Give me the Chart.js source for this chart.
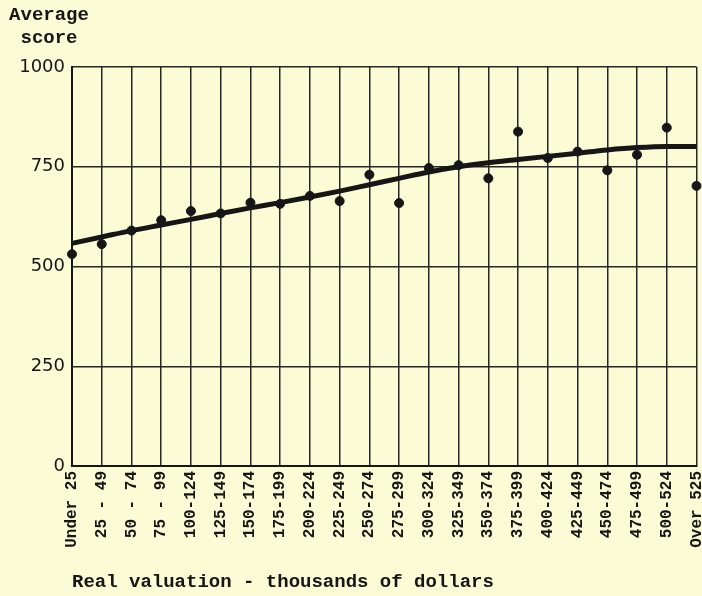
<!DOCTYPE html>
<html>
<head>
<meta charset="utf-8">
<script src="https://cdn.jsdelivr.net/npm/chart.js@4/dist/chart.umd.min.js"></script>
<style>
    html, body { margin: 0; padding: 0; background: #fbfbd6; }
    #wrap { width: 702px; height: 596px; }
</style>
</head>
<body>
<div id="wrap"><canvas id="scoreChart" width="702" height="596"></canvas></div>
<script>
// Data
const categories = [
    "Under 25", "25 - 49", "50 - 74", "75 - 99", "100-124", "125-149", "150-174",
    "175-199", "200-224", "225-249", "250-274", "275-299", "300-324", "325-349",
    "350-374", "375-399", "400-424", "425-449", "450-474", "475-499", "500-524", "Over 525"
];
const averageScores = [
    531, 556, 590, 616, 639, 633, 660, 657, 677, 664, 730,
    659, 747, 754, 721, 838, 772, 788, 741, 780, 848, 702
];
const trendLine = [
    558, 574, 590, 604, 618, 633, 647, 660, 674, 689, 705,
    721, 737, 750, 760, 768, 776, 784, 792, 798, 801, 801
];
const yTicks = [0, 250, 500, 750, 1000];

const ink = "#161616";
const typeFont = "'Liberation Mono', 'DejaVu Sans Mono', monospace";

document.addEventListener("DOMContentLoaded", () => {
    // y axis caption above the numbers
    const captionPlugin = {
        id: "caption",
        afterDraw(chart) {
            const ctx = chart.ctx;
            ctx.save();
            ctx.fillStyle = ink;
            ctx.font = "bold 19px " + typeFont;
            ctx.textAlign = "center";
            ctx.textBaseline = "middle";
            ctx.fillText("Average", 49, 15);
            ctx.fillText("score", 49, 38);
            ctx.restore();
        }
    };

    new Chart(document.getElementById("scoreChart"), {
        type: "line",
        data: {
            labels: categories,
            datasets: [
                {
                    label: "Trend",
                    data: trendLine,
                    borderColor: ink,
                    borderWidth: 5,
                    pointRadius: 0,
                    cubicInterpolationMode: "monotone",
                    fill: false,
                    clip: false
                },
                {
                    label: "Average score",
                    data: averageScores,
                    showLine: false,
                    pointRadius: 4.5,
                    pointBackgroundColor: ink,
                    pointBorderColor: ink,
                    clip: false
                }
            ]
        },
        options: {
            responsive: false,
            animation: false,
            layout: { padding: { top: 67, right: 4, left: 0, bottom: 0 } },
            plugins: {
                legend: { display: false },
                tooltip: { enabled: false }
            },
            scales: {
                x: {
                    offset: false,
                    grid: { color: "#262626", lineWidth: 1.5, drawTicks: false },
                    border: { color: ink, width: 2 },
                    ticks: {
                        autoSkip: false,
                        minRotation: 90,
                        maxRotation: 90,
                        padding: 5,
                        color: ink,
                        font: { family: typeFont, size: 16, weight: "bold" }
                    },
                    title: {
                        display: true,
                        text: "Real valuation - thousands of dollars",
                        align: "start",
                        color: ink,
                        padding: { top: 0, bottom: 2 },
                        font: { family: typeFont, size: 19, weight: "bold" }
                    },
                    afterFit(scale) {
                        scale.height = 130;
                        scale.paddingLeft = 0;
                        scale.paddingRight = 0;
                    }
                },
                y: {
                    min: 0,
                    max: 1000,
                    afterBuildTicks(scale) {
                        scale.ticks = yTicks.map(v => ({ value: v }));
                    },
                    grid: { color: "#262626", lineWidth: 1.5, drawTicks: false },
                    border: { color: ink, width: 2 },
                    ticks: {
                        padding: 7,
                        color: ink,
                        font: { family: "'DejaVu Sans', sans-serif", size: 18 },
                        callback: value => String(value)
                    },
                    afterFit(scale) {
                        scale.width = 72;
                        scale.paddingTop = 0;
                        scale.paddingBottom = 0;
                    }
                }
            }
        },
        plugins: [captionPlugin]
    });
});
</script>
</body>
</html>
